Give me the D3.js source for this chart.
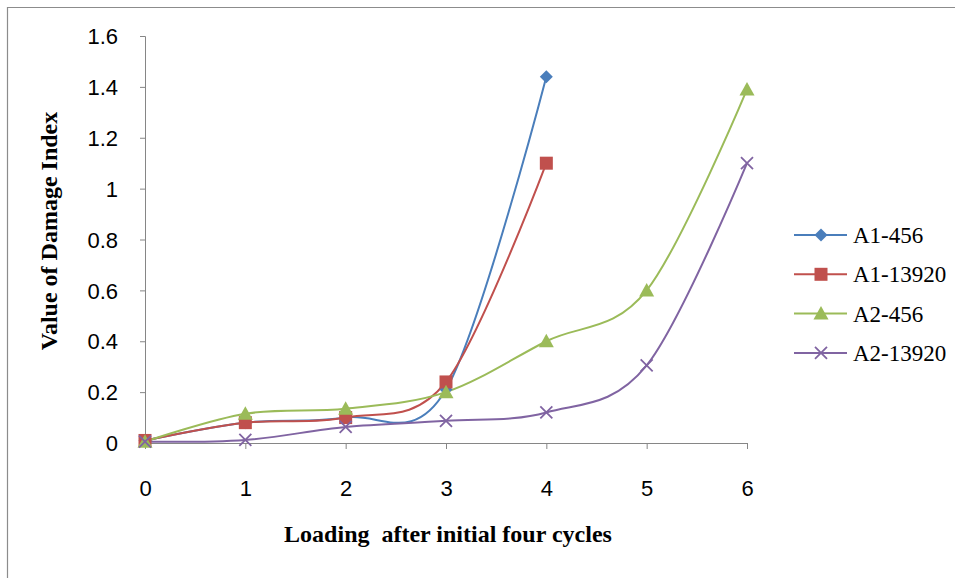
<!DOCTYPE html>
<html>
<head>
<meta charset="utf-8">
<script src="https://cdn.jsdelivr.net/npm/d3@7"></script>
<style>
  html, body { margin: 0; padding: 0; background: #fff; }
  svg { display: block; }
</style>
</head>
<body>
<svg id="chart" width="955" height="578"></svg>
<script>
// Loading steps after the initial four cycles
const loadSteps = [0, 1, 2, 3, 4, 5, 6];
const yTicks = [0, 0.2, 0.4, 0.6, 0.8, 1, 1.2, 1.4, 1.6];

// Damage index per specimen
const a1_456   = [0.01, 0.08, 0.10, 0.21, 1.44];
const a1_13920 = [0.01, 0.08, 0.10, 0.24, 1.10];
const a2_456   = [0.005, 0.115, 0.135, 0.20, 0.40, 0.60, 1.39];
const a2_13920 = [0.005, 0.012, 0.063, 0.087, 0.12, 0.305, 1.10];

const seriesNames = ["A1-456", "A1-13920", "A2-456", "A2-13920"];
const seriesColors = ["#4A7EBB", "#C0504D", "#9BBB59", "#8064A2"];
const seriesMarkers = ["diamond", "square", "triangle", "cross"];
const seriesValues = [a1_456, a1_13920, a2_456, a2_13920];

const svg = d3.select("#chart");

// frame edges (top and left)
svg.append("path")
  .attr("d", "M7.5,578V7.5H955")
  .attr("fill", "none").attr("stroke", "#8c8c8c").attr("stroke-width", 1.2);

const x = d3.scaleLinear().domain([0, 6]).range([145, 747]);
const y = d3.scaleLinear().domain([0, 1.6]).range([443, 36]);

const axisColor = "#868686";
const tickFont = "'Liberation Sans', 'Noto Sans', sans-serif";

// y axis
const yAxis = svg.append("g")
  .attr("transform", "translate(145,0)")
  .call(d3.axisLeft(y).tickValues(yTicks).tickSize(5).tickPadding(22)
    .tickFormat(d => d3.format("")(+d.toFixed(1))));
yAxis.select(".domain").attr("stroke", axisColor);
yAxis.selectAll(".tick line").attr("stroke", axisColor);
yAxis.selectAll(".tick text")
  .attr("fill", "#000").style("font-family", tickFont).style("font-size", "22px")
  .attr("dy", "0.35em");

// x axis
const xAxis = svg.append("g")
  .attr("transform", "translate(0,443)")
  .call(d3.axisBottom(x).tickValues(loadSteps).tickSize(6).tickSizeOuter(0).tickPadding(47)
    .tickFormat(d3.format("d")));
xAxis.select(".domain").attr("stroke", axisColor);
xAxis.selectAll(".tick line").attr("stroke", axisColor);
xAxis.selectAll(".tick text")
  .attr("fill", "#000").style("font-family", tickFont).style("font-size", "22px")
  .attr("dy", "0");

// axis titles
const titleFont = "'Liberation Serif', 'Times New Roman', serif";
svg.append("text")
  .attr("transform", "translate(57,231) rotate(-90)")
  .attr("text-anchor", "middle")
  .style("font-family", titleFont).style("font-weight", "bold").style("font-size", "24px")
  .text("Value of Damage Index");
svg.append("text")
  .attr("x", 448).attr("y", 542)
  .attr("text-anchor", "middle")
  .attr("xml:space", "preserve")
  .style("white-space", "pre")
  .style("font-family", titleFont).style("font-weight", "bold").style("font-size", "24px")
  .text("Loading  after initial four cycles");

// marker drawing
function drawMarker(g, type, color) {
  if (type === "diamond") {
    g.append("path").attr("d", "M0,-6.5L6.5,0L0,6.5L-6.5,0Z").attr("fill", color);
  } else if (type === "square") {
    g.append("rect").attr("x", -6.5).attr("y", -6.5).attr("width", 13).attr("height", 13)
      .attr("fill", color);
  } else if (type === "triangle") {
    g.append("path").attr("d", "M0,-7.5L7.5,6L-7.5,6Z").attr("fill", color);
  } else {
    g.append("path").attr("d", "M-6,-6L6,6M-6,6L6,-6")
      .attr("stroke", color).attr("stroke-width", 1.8).attr("fill", "none");
  }
}

const line = d3.line()
  .x((d, i) => x(loadSteps[i]))
  .y(d => y(d))
  .curve(d3.curveCardinal.tension(0));

// smoothed series lines
seriesValues.forEach((vals, k) => {
  svg.append("path")
    .datum(vals)
    .attr("d", line)
    .attr("fill", "none")
    .attr("stroke", seriesColors[k])
    .attr("stroke-width", 2);
});

// markers on top
seriesValues.forEach((vals, k) => {
  vals.forEach((v, i) => {
    const g = svg.append("g").attr("transform", `translate(${x(loadSteps[i])},${y(v)})`);
    drawMarker(g, seriesMarkers[k], seriesColors[k]);
  });
});

// legend
const legend = svg.append("g");
seriesNames.forEach((name, k) => {
  const ly = 235 + k * 39.3;
  legend.append("line")
    .attr("x1", 794).attr("x2", 847).attr("y1", ly).attr("y2", ly)
    .attr("stroke", seriesColors[k]).attr("stroke-width", 2);
  const g = legend.append("g").attr("transform", `translate(821,${ly})`);
  drawMarker(g, seriesMarkers[k], seriesColors[k]);
  legend.append("text")
    .attr("x", 853).attr("y", ly).attr("dy", "0.35em")
    .style("font-family", titleFont).style("font-size", "23px")
    .text(name);
});
</script>
</body>
</html>
